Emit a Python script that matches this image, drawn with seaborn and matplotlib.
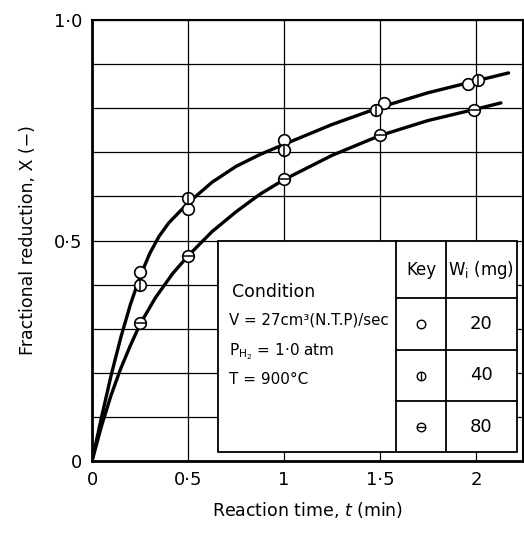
import matplotlib
matplotlib.use("Agg")
import matplotlib.pyplot as plt
import seaborn as sns
from matplotlib.patches import Rectangle
from matplotlib.ticker import MultipleLocator

# ---- data ----
time_20 = [0.25, 0.5, 1.0, 1.52, 1.96]
frac_20 = [0.428, 0.571, 0.727, 0.811, 0.854]
time_40 = [0.25, 0.5, 1.0, 1.48, 2.01]
frac_40 = [0.400, 0.596, 0.706, 0.797, 0.864]
time_80 = [0.25, 0.5, 1.0, 1.50, 1.99]
frac_80 = [0.313, 0.465, 0.640, 0.740, 0.796]

upper_t = [0.0, 0.05, 0.1, 0.15, 0.2, 0.25, 0.3, 0.35, 0.4, 0.5,
           0.625, 0.75, 0.875, 1.0, 1.25, 1.5, 1.75, 2.0, 2.17]
upper_x = [0.0, 0.10, 0.195, 0.28, 0.355, 0.418, 0.47, 0.51, 0.54, 0.585,
           0.632, 0.668, 0.695, 0.718, 0.763, 0.802, 0.835, 0.862, 0.880]
lower_t = [0.0, 0.05, 0.1, 0.15, 0.2, 0.25, 0.33, 0.42, 0.5, 0.625,
           0.75, 0.875, 1.0, 1.25, 1.5, 1.75, 2.0, 2.13]
lower_x = [0.0, 0.08, 0.15, 0.21, 0.262, 0.31, 0.37, 0.425, 0.465, 0.52,
           0.565, 0.605, 0.638, 0.693, 0.738, 0.772, 0.798, 0.812]

x_ticks = [0, 0.5, 1, 1.5, 2]
x_tick_labels = ["0", "0·5", "1", "1·5", "2"]
y_ticks = [0, 0.5, 1.0]
y_tick_labels = ["0", "0·5", "1·0"]
weights = ["20", "40", "80"]
conditions = ["V = 27cm³(N.T.P)/sec", "P$_{\\mathrm{H_2}}$ = 1·0 atm", "T = 900°C"]

sns.set_theme(style="white")
plt.rcParams["font.family"] = ["DejaVu Sans"]
plt.rcParams["mathtext.fontset"] = "dejavusans"
for k in ["text.color", "axes.labelcolor", "xtick.color", "ytick.color"]:
    plt.rcParams[k] = "black"

W, H = 524, 543
fig = plt.figure(figsize=(W / 100, H / 100), dpi=100)
ax = fig.add_axes([92 / W, 1 - 461 / H, (523 - 92) / W, (461 - 20) / H])
ax.set_xlim(0, 2.245)
ax.set_ylim(0, 1.0)

# grid
ax.set_xticks(x_ticks)
ax.set_xticklabels(x_tick_labels, fontsize=13)
ax.set_yticks(y_ticks)
ax.set_yticklabels(y_tick_labels, fontsize=13)
ax.yaxis.set_minor_locator(MultipleLocator(0.1))
ax.grid(which="major", color="black", lw=0.9)
ax.grid(which="minor", axis="y", color="black", lw=0.9)
ax.tick_params(which="both", length=0, pad=7, colors="black")
for side, lw in [("left", 2.0), ("bottom", 2.0), ("top", 1.5), ("right", 1.5)]:
    ax.spines[side].set_visible(True)
    ax.spines[side].set_color("black")
    ax.spines[side].set_linewidth(lw)
ax.set_axisbelow(True)

# curves
sns.lineplot(x=upper_t, y=upper_x, color="black", lw=2.4, sort=False,
             estimator=None, ax=ax, zorder=2)
sns.lineplot(x=lower_t, y=lower_x, color="black", lw=2.4, sort=False,
             estimator=None, ax=ax, zorder=2)

# points
msize = 70
for t, x, over in [(time_20, frac_20, None), (time_40, frac_40, "|"), (time_80, frac_80, "_")]:
    sns.scatterplot(x=t, y=x, marker="o", s=msize, color="white",
                    edgecolor="black", linewidth=1.2, ax=ax, zorder=3)
    if over:
        sns.scatterplot(x=t, y=x, marker=over, s=msize, color="black",
                        linewidth=1.1, ax=ax, zorder=4)

# table
def ypx(p):
    return (461 - p) / 441
def xpx(p):
    return (p - 92) / 192

lw_t = 1.3
x0, x1, x2, x3 = xpx(218), xpx(396), xpx(446), xpx(517)
yb, r3, r2, r1, yt = ypx(452), ypx(401), ypx(350), ypx(298), ypx(241)
ax.add_patch(Rectangle((x0, yb), x3 - x0, yt - yb, facecolor="white",
                       edgecolor="black", lw=lw_t, zorder=5))
for a in [x1, x2]:
    ax.plot([a, a], [yb, yt], color="black", lw=lw_t, zorder=6)
for r in [r1, r2, r3]:
    ax.plot([x1, x3], [r, r], color="black", lw=lw_t, zorder=6)

ax.text(xpx(232), ypx(292), "Condition", fontsize=12.5, va="center", ha="left", zorder=7)
for txt, yp, fs in zip(conditions, [320, 352, 379], [10.8, 11, 11]):
    ax.text(xpx(229), ypx(yp), txt, fontsize=fs, va="center", ha="left", zorder=7)
kx = (x1 + x2) / 2
wx = (x2 + x3) / 2
ax.text(kx, ypx(270), "Key", fontsize=12, va="center", ha="center", zorder=7)
ax.text(wx, ypx(270), "W$_{\\mathrm{i}}$ (mg)", fontsize=12, va="center", ha="center", zorder=7)
row_c = [(r1 + r2) / 2, (r2 + r3) / 2, (r3 + yb) / 2]
for w, yc in zip(weights, row_c):
    ax.text(wx, yc, w, fontsize=13, va="center", ha="center", zorder=7)
ks = 38
for yc, over in zip(row_c, [None, "|", "_"]):
    ax.scatter([kx], [yc], marker="o", s=ks, facecolor="white", edgecolor="black",
               linewidth=1.0, zorder=8)
    if over:
        ax.scatter([kx], [yc], marker=over, s=ks, color="black", linewidth=1.0, zorder=9)

ax.set_xlabel("Reaction time, $t$ (min)", fontsize=12.5, labelpad=8)
ax.set_ylabel("Fractional reduction, X (−)", fontsize=12.5, labelpad=12)

fig.savefig("out.png", dpi=100)
